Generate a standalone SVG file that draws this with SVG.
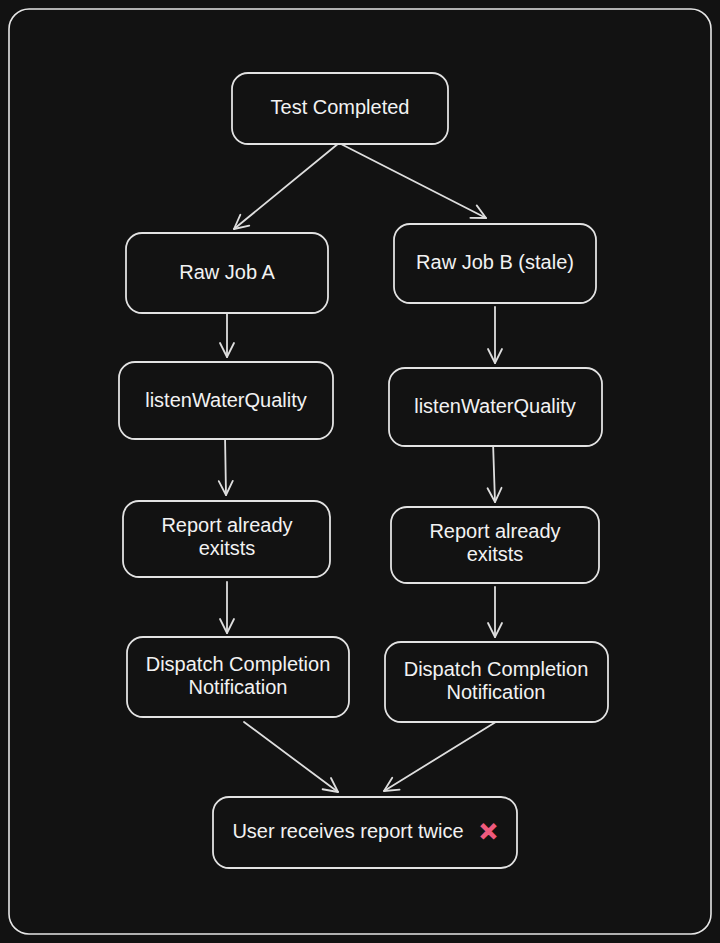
<svg xmlns="http://www.w3.org/2000/svg" width="720" height="943" viewBox="0 0 720 943">
<defs>
<style>
.bg{fill:#121212}
.frame{fill:none;stroke:#e6e6e6;stroke-width:1.6}
.box{fill:#121212;stroke:#e2e2e2;stroke-width:1.8}
.lbl{font-family:"Liberation Sans",Arial,sans-serif;font-size:20px;fill:#f2f2f2;text-anchor:middle}
.edge{fill:none;stroke:#dedede;stroke-width:1.8;stroke-linecap:round}
.xmark{font-family:"DejaVu Sans",sans-serif;font-size:22px;font-weight:bold;fill:#ee5a7d;text-anchor:middle;font-variant-emoji:text}
</style>
<marker id="ah" viewBox="0 0 20 20" refX="18" refY="10" markerWidth="20" markerHeight="20" markerUnits="userSpaceOnUse" orient="auto">
<path d="M4 3 L18 10 L4 17" fill="none" stroke="#dedede" stroke-width="1.8" stroke-linecap="round" stroke-linejoin="round"/>
</marker>
</defs>
<rect class="bg" x="0" y="0" width="720" height="943"/>
<rect class="frame" x="9" y="9" width="702" height="925" rx="20"/>

<g id="connectors">
<line class="edge" x1="339" y1="143" x2="234" y2="229" marker-end="url(#ah)"/>
<line class="edge" x1="339" y1="143" x2="486" y2="218" marker-end="url(#ah)"/>
<line class="edge" x1="227" y1="313" x2="227" y2="357" marker-end="url(#ah)"/>
<line class="edge" x1="495" y1="307" x2="495" y2="363" marker-end="url(#ah)"/>
<line class="edge" x1="225" y1="435" x2="226" y2="495" marker-end="url(#ah)"/>
<line class="edge" x1="493" y1="442" x2="495" y2="502" marker-end="url(#ah)"/>
<line class="edge" x1="227" y1="582" x2="227" y2="633" marker-end="url(#ah)"/>
<line class="edge" x1="495" y1="587" x2="495" y2="637" marker-end="url(#ah)"/>
<line class="edge" x1="244" y1="722" x2="338" y2="792" marker-end="url(#ah)"/>
<line class="edge" x1="499" y1="720" x2="384" y2="791" marker-end="url(#ah)"/>
</g>

<g id="test-completed">
<rect class="box" x="232" y="73" width="216" height="71" rx="16"/>
<text class="lbl" x="340" y="114">Test Completed</text>
</g>
<g id="raw-job-a">
<rect class="box" x="126" y="233" width="202" height="80" rx="16"/>
<text class="lbl" x="227" y="279">Raw Job A</text>
</g>
<g id="raw-job-b">
<rect class="box" x="394" y="224" width="202" height="79" rx="16"/>
<text class="lbl" x="495" y="269">Raw Job B (stale)</text>
</g>
<g id="listen-a">
<rect class="box" x="119" y="362" width="214" height="77" rx="16"/>
<text class="lbl" x="226" y="407">listenWaterQuality</text>
</g>
<g id="listen-b">
<rect class="box" x="389" y="368" width="213" height="78" rx="16"/>
<text class="lbl" x="495" y="413">listenWaterQuality</text>
</g>
<g id="report-a">
<rect class="box" x="123" y="501" width="207" height="76" rx="16"/>
<text class="lbl" x="227" y="532">Report already</text>
<text class="lbl" x="227" y="555">exitsts</text>
</g>
<g id="report-b">
<rect class="box" x="391" y="507" width="208" height="76" rx="16"/>
<text class="lbl" x="495" y="538">Report already</text>
<text class="lbl" x="495" y="561">exitsts</text>
</g>
<g id="dispatch-a">
<rect class="box" x="127" y="637" width="222" height="80" rx="16"/>
<text class="lbl" x="238" y="671">Dispatch Completion</text>
<text class="lbl" x="238" y="694">Notification</text>
</g>
<g id="dispatch-b">
<rect class="box" x="385" y="642" width="223" height="80" rx="16"/>
<text class="lbl" x="496" y="676">Dispatch Completion</text>
<text class="lbl" x="496" y="699">Notification</text>
</g>
<g id="user-receives">
<rect class="box" x="213" y="797" width="304" height="71" rx="16"/>
<text class="lbl" x="348" y="838">User receives report twice</text>
<text class="xmark" x="488" y="839">❌︎</text>
</g>
</svg>
